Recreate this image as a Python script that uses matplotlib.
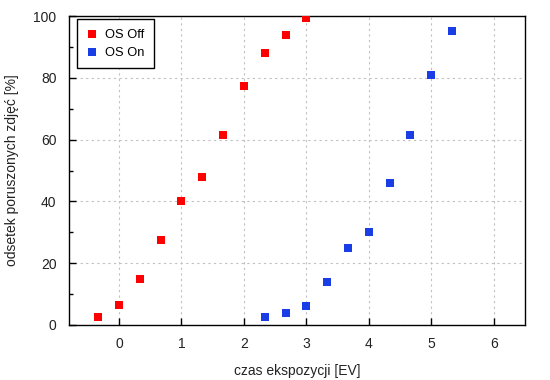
import matplotlib
matplotlib.use("Agg")
import matplotlib.pyplot as plt
from matplotlib.ticker import MultipleLocator

plt.rcParams['font.family'] = ['Liberation Sans', 'DejaVu Sans']

off_x = [-1/3, 0, 1/3, 2/3, 1, 4/3, 5/3, 2, 7/3, 8/3, 3]
off_y = [2.6, 6.5, 14.9, 27.5, 40.0, 48.0, 61.5, 77.3, 88.0, 93.8, 99.4]
on_x = [7/3, 8/3, 3, 10/3, 11/3, 4, 13/3, 14/3, 5, 16/3]
on_y = [2.6, 3.9, 6.1, 13.9, 24.9, 30.0, 46.0, 61.5, 81.0, 95.0]

fig = plt.figure(figsize=(5.5, 3.8), dpi=100)
ax = fig.add_axes([69/550, 1 - 325/380, (525 - 69)/550, (325 - 16)/380])

ax.scatter(off_x, off_y, marker='s', s=30, color='#ff0000', label='OS Off', linewidths=0, zorder=3)
ax.scatter(on_x, on_y, marker='s', s=30, color='#1a3ee6', label='OS On', linewidths=0, zorder=3)

ax.set_xlim(-0.8, 6.5)
ax.set_ylim(0, 100)
ax.xaxis.set_major_locator(MultipleLocator(1))
ax.yaxis.set_major_locator(MultipleLocator(20))
ax.yaxis.set_minor_locator(MultipleLocator(10))
ax.grid(True, which='major', color='#c0c0c0', linestyle=(0, (2, 3)), linewidth=0.8)
ax.tick_params(which='both', direction='in', top=False, right=False, labelsize=10, colors='black')
ax.tick_params(which='major', length=5, width=1, pad=9)
ax.tick_params(which='minor', length=3, width=1)
for lab in ax.get_xticklabels() + ax.get_yticklabels():
    lab.set_color('#222222')
for sp in ax.spines.values():
    sp.set_linewidth(1.0)

ax.set_xlabel('czas ekspozycji [EV]', fontsize=10, labelpad=9, color='#222222')
ax.set_ylabel('odsetek poruszonych zdjęć [%]', fontsize=10, labelpad=10, color='#222222')

leg = ax.legend(loc='upper left', bbox_to_anchor=(8/456, 1 - 3/309), borderaxespad=0,
                fontsize=9.3, frameon=True, fancybox=False,
                edgecolor='black', framealpha=1, handletextpad=0.6, handlelength=0.8,
                borderpad=0.75, labelspacing=0.45, markerscale=1.0)
leg.get_frame().set_linewidth(1.0)

fig.savefig('out.png', dpi=100)
